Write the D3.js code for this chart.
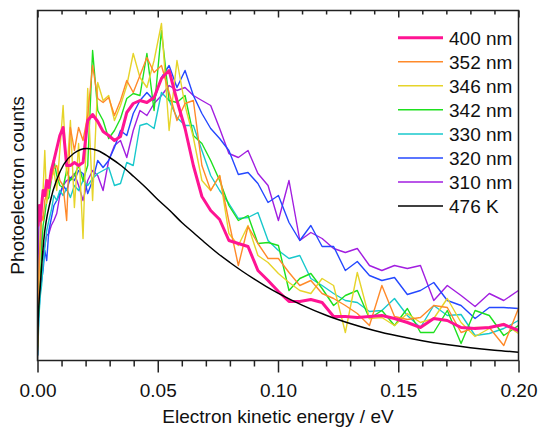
<!DOCTYPE html>
<html>
<head>
<meta charset="utf-8">
<script src="https://cdn.jsdelivr.net/npm/d3@7"></script>
<style>
  html, body { margin: 0; padding: 0; background: #fff; }
  svg { display: block; font-family: "Liberation Sans", Arial, sans-serif; }
</style>
</head>
<body>
<svg id="chart" width="538" height="428"></svg>
<script>
// Electron kinetic energy grid (eV)
const energy = [0.00005,0.00019,0.00043,0.00076,0.00118,0.00170,0.00232,0.00303,0.00383,0.00473,0.00573,0.00682,0.00800,0.00928,0.01065,0.01212,0.01368,0.01534,0.01709,0.01893,0.02088,0.02291,0.02504,0.02727,0.02959,0.03200,0.03451,0.03712,0.03981,0.04260,0.04549,0.04847,0.05155,0.05472,0.05799,0.06135,0.06481,0.06836,0.07201,0.07574,0.07958,0.08351,0.08753,0.09165,0.09586,0.10017,0.10457,0.10907,0.11366,0.11834,0.12312,0.12800,0.13297,0.13803,0.14319,0.14844,0.15379,0.15923,0.16477,0.17040,0.17612,0.18195,0.18786,0.19387,0.19997];

// Photoelectron counts (arbitrary units)
const nm400 = [145,135,148,155,140,155,170,165,180,173,190,200,212,225,233,195,195,198,195,198,240,246,239,229,225,220,224,248,257,260,258,263,282,290,260,232,195,164,150,141,120,117,114,90,80,69,59,59,61,58,44,44,43,44,45,42,38,33,42,40,33,32,33,36,30];
const nm352 = [10,30,70,100,120,145,140,160,167,180,185,192,195,180,175,140,233,210,233,220,245,295,262,258,263,245,260,280,268,285,303,288,295,268,240,257,260,195,170,185,139,95,134,117,102,102,88,75,80,67,62,55,47,35,75,44,41,43,55,53,28,33,33,15,52];
const nm346 = [15,40,70,100,130,140,170,210,157,175,180,190,170,210,255,185,240,153,217,122,272,160,278,260,265,240,255,275,307,283,273,300,337,230,300,255,223,180,170,185,127,115,135,105,98,87,78,70,67,82,75,28,88,42,43,35,47,38,42,62,38,24,32,37,27];
const nm342 = [13,30,50,70,80,110,135,145,160,163,180,200,185,175,173,190,180,185,195,180,195,310,250,240,222,230,242,262,267,265,307,250,330,260,258,265,225,217,200,180,155,140,145,117,118,115,70,82,87,72,55,65,70,42,50,35,52,28,28,50,17,50,45,25,35];
const nm330 = [5,15,30,50,65,75,95,112,130,140,150,165,160,170,165,172,163,175,170,180,175,182,187,190,193,175,177,198,195,235,237,232,268,260,243,235,235,210,185,170,157,142,143,148,120,110,102,105,82,75,67,60,58,49,50,62,45,33,55,45,46,25,27,32,40];
const nm320 = [5,20,40,55,70,80,90,110,100,130,142,155,160,167,175,170,183,180,190,187,167,180,200,193,200,213,230,225,247,260,268,260,283,295,273,290,265,247,232,222,210,186,188,177,158,165,138,120,135,114,114,90,99,85,80,83,66,70,78,60,55,42,53,53,52];
const nm310 = [15,60,120,155,150,100,105,115,125,127,135,140,147,165,175,180,182,187,175,160,180,190,185,170,200,215,220,203,230,250,245,257,265,275,270,273,265,260,255,232,207,203,210,187,175,140,180,120,128,122,112,108,112,95,90,95,92,95,60,75,65,54,67,60,70];

// 476 K thermal curve
const thermalE = [0,0.0003,0.0012,0.0026,0.0054,0.0082,0.0109,0.015,0.0205,0.025,0.03,0.035,0.04,0.045,0.05,0.055,0.06,0.065,0.07,0.075,0.08,0.085,0.09,0.095,0.10,0.11,0.12,0.13,0.14,0.15,0.16,0.17,0.18,0.19,0.20];
const thermalY = [0,40,76,120,160,182,196,207,212,210,203,194.5,184,173,161,150,138,127.5,117,107,98,89.5,81.6,74.2,67.4,55.4,45.3,37,30,24.4,19.7,15.9,12.8,10.3,8.3];

const legendLabels = ["400 nm","352 nm","346 nm","342 nm","330 nm","320 nm","310 nm","476 K"];
const seriesColors = ["#ff1493","#ff8a2a","#e6d42a","#1ee01e","#18c8cc","#2448ff","#a21ee0","#000000"];
const xMajorTicks = [0, 0.05, 0.10, 0.15, 0.20];
const xMinorTicks = [0.01,0.02,0.03,0.04,0.06,0.07,0.08,0.09,0.11,0.12,0.13,0.14,0.16,0.17,0.18,0.19];

const svg = d3.select("#chart");
const L = 37.5, R = 518.5, T = 10.5, B = 360.5;
const x = d3.scaleLinear().domain([0, 0.2]).range([L, R]);
const y = d3.scaleLinear().domain([0, 350]).range([B, T]);

svg.append("defs").append("clipPath").attr("id", "clip")
  .append("rect").attr("x", L).attr("y", T).attr("width", R - L).attr("height", B - T);

const line = d3.line().x(d => x(d[0])).y(d => y(d[1]));
const smooth = d3.line().x(d => x(d[0])).y(d => y(d[1])).curve(d3.curveMonotoneX);

const g = svg.append("g").attr("clip-path", "url(#clip)");
const spectra = [nm400, nm352, nm346, nm342, nm330, nm320, nm310];
// draw from 310 nm up to 352 nm, then 400 nm on top
for (let k = spectra.length - 1; k >= 1; k--) {
  g.append("path")
    .datum(energy.map((e, i) => [e, spectra[k][i]]))
    .attr("fill", "none").attr("stroke", seriesColors[k])
    .attr("stroke-width", 1.4).attr("stroke-linejoin", "round")
    .attr("d", line);
}
g.append("path")
  .datum(energy.map((e, i) => [e, nm400[i]]))
  .attr("fill", "none").attr("stroke", seriesColors[0])
  .attr("stroke-width", 3).attr("stroke-linejoin", "round")
  .attr("d", line);
g.append("path")
  .datum(thermalE.map((e, i) => [e, thermalY[i]]))
  .attr("fill", "none").attr("stroke", seriesColors[7])
  .attr("stroke-width", 1.5)
  .attr("d", smooth);

// Axes
const axisColor = "#222";
const bottomMajor = svg.append("g").attr("transform", `translate(0,${B})`)
  .call(d3.axisBottom(x).tickValues(xMajorTicks).tickSize(12).tickSizeOuter(0).tickFormat(d3.format(".2f")));
const bottomMinor = svg.append("g").attr("transform", `translate(0,${B})`)
  .call(d3.axisBottom(x).tickValues(xMinorTicks).tickSize(6).tickSizeOuter(0).tickFormat(""));
const topMajor = svg.append("g").attr("transform", `translate(0,${T})`)
  .call(d3.axisTop(x).tickValues(xMajorTicks).tickSize(-7).tickSizeOuter(0).tickFormat(""));
const topMinor = svg.append("g").attr("transform", `translate(0,${T})`)
  .call(d3.axisTop(x).tickValues(xMinorTicks).tickSize(-4).tickSizeOuter(0).tickFormat(""));
[bottomMajor, bottomMinor, topMajor, topMinor].forEach(a => {
  a.select(".domain").remove();
  a.selectAll(".tick line").attr("stroke", axisColor).attr("stroke-width", 1.5);
});
bottomMajor.selectAll(".tick text")
  .attr("y", 36.5).attr("dy", 0)
  .attr("font-size", 19).attr("font-family", "'Liberation Sans', Arial, sans-serif")
  .attr("fill", "#111");

// Frame
svg.append("rect").attr("x", L).attr("y", T).attr("width", R - L).attr("height", B - T)
  .attr("fill", "none").attr("stroke", axisColor).attr("stroke-width", 1.5);

// Axis titles
svg.append("text").attr("x", (L + R) / 2).attr("y", 423)
  .attr("text-anchor", "middle").attr("font-size", 19).attr("fill", "#111")
  .text("Electron kinetic energy / eV");
svg.append("text")
  .attr("transform", `translate(24,${(T + B) / 2}) rotate(-90)`)
  .attr("text-anchor", "middle").attr("font-size", 19).attr("fill", "#111")
  .text("Photoelectron counts");

// Legend
const leg = svg.append("g");
legendLabels.forEach((lab, i) => {
  const cy = 37.7 + i * 24.05;
  leg.append("line").attr("x1", 398).attr("x2", 443).attr("y1", cy).attr("y2", cy)
    .attr("stroke", seriesColors[i]).attr("stroke-width", i === 0 ? 3 : 1.5);
  leg.append("text").attr("x", 449).attr("y", cy + 7).attr("font-size", 19)
    .attr("fill", "#111").text(lab);
});
</script>
</body>
</html>
